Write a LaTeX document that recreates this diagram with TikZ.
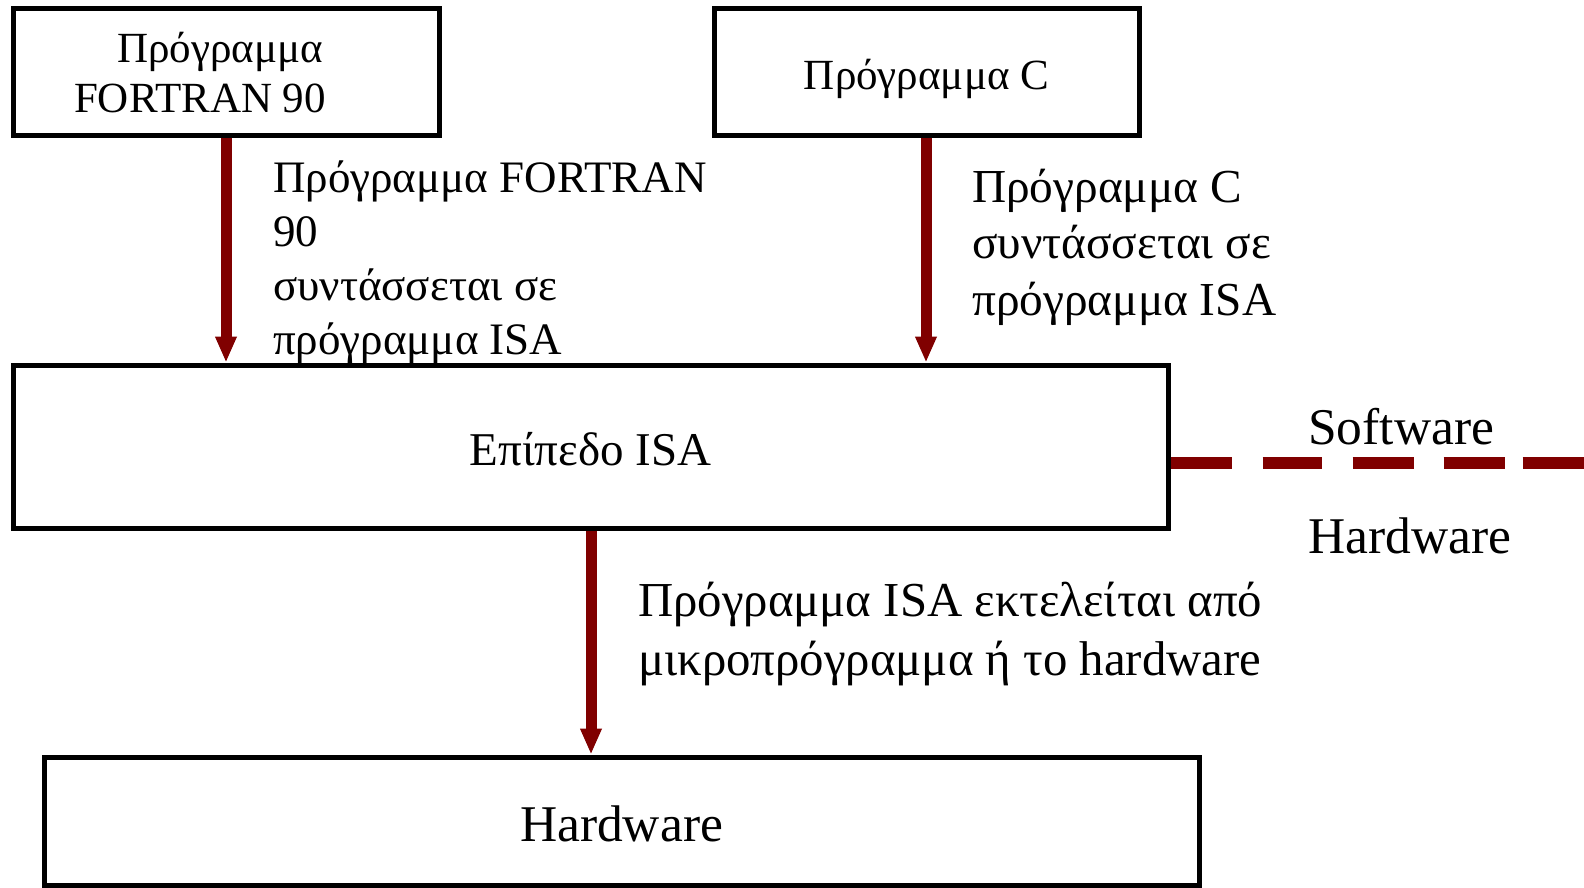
\documentclass[tikz,border=0pt]{standalone}
\usepackage{fontspec}
\setmainfont{Liberation Serif}
\usetikzlibrary{arrows.meta}
\definecolor{darkmaroon}{RGB}{128,0,0}
\newcommand\fsz[2]{\fontsize{#1}{#2}\selectfont}
\tikzset{
  block/.style={draw=black, line width=5pt, inner sep=0pt, align=center},
  flow/.style={draw=darkmaroon, line width=11pt,
    -{Triangle[length=26pt,width=20pt]}},
  divider/.style={draw=darkmaroon, line width=12pt,
    dash pattern=on 61pt off 31pt on 59pt off 31pt on 61pt off 30pt on 61pt off 18pt on 70pt},
  note/.style={inner sep=0pt, align=left, anchor=base west}
}
\begin{document}
\begin{tikzpicture}[x=1pt,y=-1pt]
\useasboundingbox (0,0) rectangle (1584,887);

% boxes
\node[block, minimum width=426pt, minimum height=127pt] (fortranbox) at (226,71.5) {};
\node[inner sep=0pt, align=center, font=\fsz{43}{50}] (fortrantext) at (220,73) {Πρόγραμμα\\FORTRAN 90\hspace*{40pt}};
\node[block, minimum width=425pt, minimum height=127pt, font=\fsz{43}{50},
      text height=35pt, text depth=0pt] (cbox) at (926.5,71.5) {Πρόγραμμα C};
\node[block, minimum width=1155pt, minimum height=163pt, font=\fsz{47}{54},
      text height=37pt, text depth=0pt] (isa) at (590.5,446.5) {Επίπεδο ISA};
\node[block, minimum width=1155pt, minimum height=128pt, font=\fsz{51.5}{58},
      text height=40pt, text depth=0pt] (hw) at (621.5,821) {Hardware};

% arrow columns
\coordinate (colA) at (226,0);
\coordinate (colB) at (926,0);
\coordinate (colC) at (591,0);

\draw[flow] (fortranbox.south -| colA) -- (isa.north -| colA);
\draw[flow] (cbox.south -| colB) -- (isa.north -| colB);
\draw[flow] (isa.south -| colC) -- (hw.north -| colC);

% arrow labels (anchored at the baseline of their last line)
\node[note, font=\fsz{45}{54}] (lblA) at (273,354) {Πρόγραμμα FORTRAN\\90\\συντάσσεται σε\\πρόγραμμα ISA};
\node[note, font=\fsz{47.3}{56.5}] (lblB) at (972,315) {Πρόγραμμα C\\συντάσσεται σε\\πρόγραμμα ISA};
\node[note, font=\fsz{48.8}{59}] (lblC) at (638,675) {Πρόγραμμα ISA εκτελείται από\\μικροπρόγραμμα ή το hardware};

% software / hardware boundary
\coordinate (dashend) at (1584,463);
\draw[divider] (isa.east |- dashend) -- (dashend);
\node[note, font=\fsz{51.5}{58}] (sw) at (1308,444) {Software};
\node[note, font=\fsz{51.5}{58}] (hwl) at (1308,553) {Hardware};
\end{tikzpicture}
\end{document}
